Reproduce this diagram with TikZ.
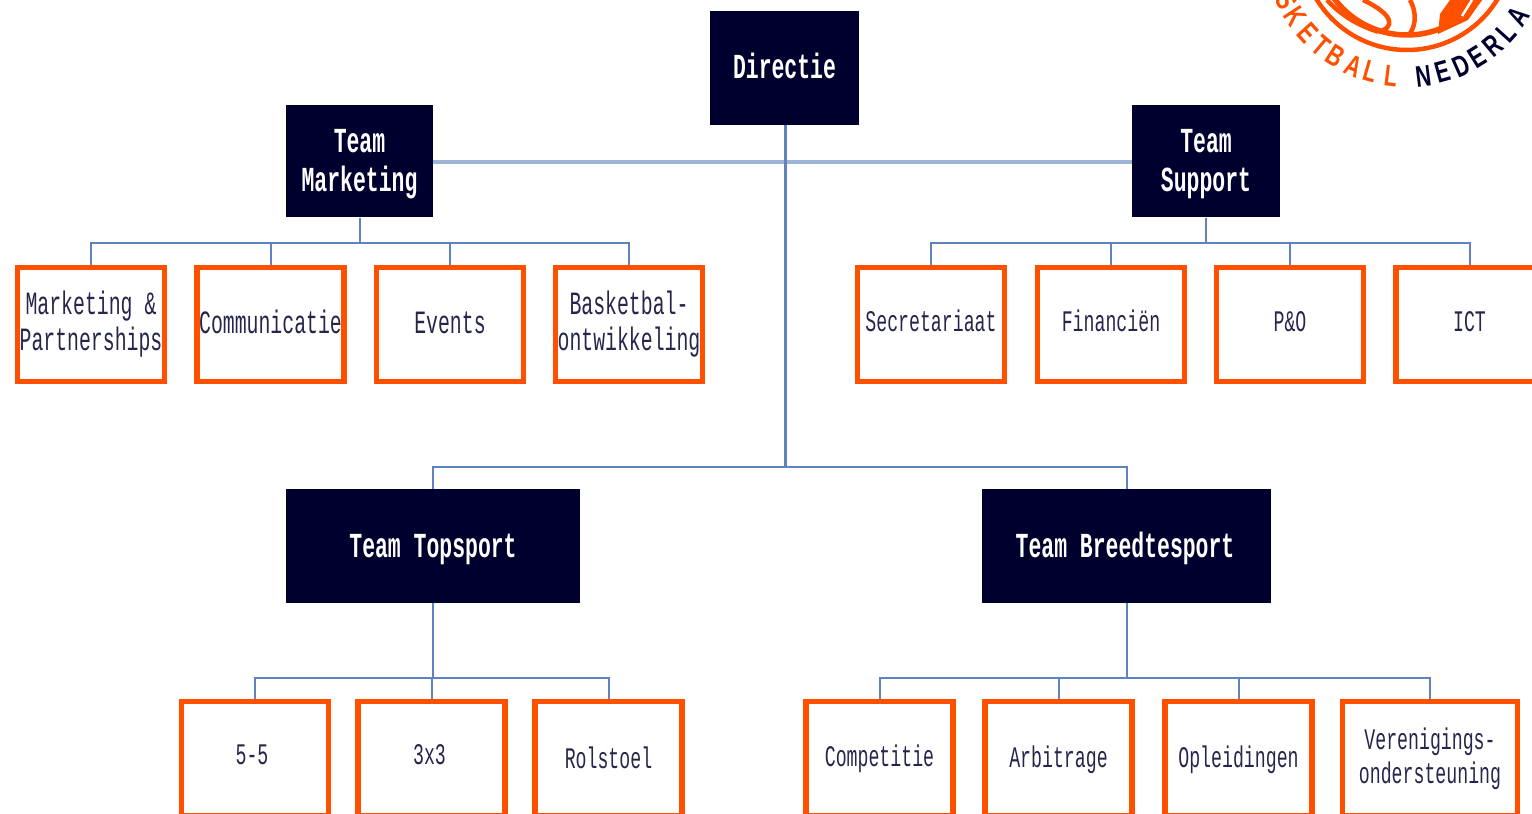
\documentclass[tikz,border=0pt]{standalone}
\usepackage{fontspec}
\setmainfont[FakeStretch=0.61]{Liberation Mono}
\newfontfamily\logofont[FakeStretch=0.72]{Liberation Sans}
\definecolor{navy}{HTML}{00002E}
\definecolor{oranje}{HTML}{FF5000}
\definecolor{lijn}{HTML}{5F83C0}
\definecolor{lijnlicht}{HTML}{9DB3D8}
\newcommand{\regel}[2]{\raisebox{#1}[0pt][0pt]{#2}}
\tikzset{
  team/.style={rectangle,fill=navy,text=white,align=center,minimum height=2.28cm,inner sep=0pt,
    font=\fontsize{20}{22}\selectfont\bfseries},
  unit/.style={rectangle,draw=oranje,line width=0.105cm,fill=white,text=navy!85,align=center,
    minimum height=2.28cm,minimum width=2.94cm,inner sep=0pt,font=\fontsize{17}{19.5}\selectfont},
  groot/.style={font=\fontsize{18.5}{20.4}\selectfont},
  tak/.style={draw=lijn,line width=0.04cm},
  stam/.style={draw=lijnlicht,line width=0.08cm},
  letter/.style={inner sep=0pt,font=\fontsize{17}{17}\selectfont\logofont\bfseries},
}
\begin{document}
\begin{tikzpicture}[x=0.02cm,y=-0.02cm]
\useasboundingbox (0,0) rectangle (1532,814);
% logo
\begin{scope}
  \clip (1250,0) rectangle (1532,100);
  \draw[oranje,line width=0.09cm] (1407,-56) circle (106);
  \draw[oranje,line width=0.11cm] (1407,-56) circle (91);
  \draw[oranje,line width=0.09cm] (1327,0) .. controls (1350,25) and (1375,30) .. (1378,32);
  \draw[oranje,line width=0.09cm] (1363,0) .. controls (1395,15) and (1395,28) .. (1378,32);
  \draw[oranje,line width=0.09cm] (1410,0) .. controls (1418,15) and (1415,28) .. (1408,36);
  \fill[oranje] (1450,0) -- (1440,14) -- (1438,34) -- (1468,20) -- (1482,0) -- cycle;
  \draw[white,line width=0.05cm] (1472,0) -- (1462,16);
\end{scope}
\foreach \ang/\ch [count=\i] in {-65/S,-56.8/K,-48/E,-40/T,-32.4/B,-23.6/A,-16/L,-7/L}
  \node[letter,text=oranje,rotate=\ang] (org\i) at ({1407+133*sin(\ang)},{-56+133*cos(\ang)}) {\ch};
\foreach \ang/\ch [count=\i] in {7/N,15.5/E,24/D,32/E,40/R,48/L,57/A}
  \node[letter,text=navy,rotate=\ang] (ned\i) at ({1407+133*sin(\ang)},{-56+133*cos(\ang)}) {\ch};
% teams
\node[team,minimum width=2.98cm] (directie) at (784.5,68) {\regel{-0.22cm}{Directie}};
\node[team,minimum width=2.94cm,minimum height=2.26cm] (marketing) at (359.5,161) {\rule{0pt}{0.59cm}Team\\Marketing};
\node[team,minimum width=2.96cm,minimum height=2.26cm] (support) at (1206,161) {\rule{0pt}{0.59cm}Team\\Support};
\node[team,minimum width=5.88cm] (topsport) at (433,546) {\regel{-0.24cm}{Team Topsport}};
\node[team,minimum width=5.78cm] (breedte) at (1126.5,546) {\regel{-0.24cm}{Team Breedtesport\hspace{0.06cm}}};
% units
\node[unit,groot] (mp) at (91,324.5) {Marketing \&\\Partnerships};
\node[unit,groot] (comm) at (270.5,324.5) {\regel{-0.185cm}{Communicatie}};
\node[unit,groot] (events) at (450,324.5) {\regel{-0.185cm}{Events}};
\node[unit,groot] (basket) at (629,324.5) {Basketbal-\\ontwikkeling};
\node[unit] (secr) at (931,324.5) {\regel{-0.15cm}{Secretariaat}};
\node[unit] (fin) at (1111,324.5) {\regel{-0.15cm}{Financiën}};
\node[unit] (po) at (1290,324.5) {\regel{-0.15cm}{P\&O}};
\node[unit] (ict) at (1469.5,324.5) {\regel{-0.15cm}{ICT}};
\node[unit] (vijf) at (255,758.5) {\regel{-0.11cm}{5-5\hspace{0.12cm}}};
\node[unit] (drie) at (431.5,758.5) {\regel{-0.11cm}{3x3\hspace{0.08cm}}};
\node[unit] (rol) at (608.5,758.5) {\regel{-0.19cm}{Rolstoel}};
\node[unit] (comp) at (879.5,758.5) {\regel{-0.15cm}{Competitie}};
\node[unit] (arb) at (1058.5,758.5) {\regel{-0.17cm}{Arbitrage}};
\node[unit] (opl) at (1238.5,758.5) {\regel{-0.17cm}{Opleidingen}};
\node[unit,minimum width=3.5cm] (ver) at (1430,758.5) {Verenigings-\\ondersteuning};
% connectors
\draw[stam] ([yshift=-0.03cm]marketing.east) -- ([yshift=-0.03cm]support.west);
\draw[tak,line width=0.05cm] ([xshift=0.02cm]directie.south) -- ++(0,342) coordinate (split);
\draw[tak] (topsport.north) |- (split) -| (breedte.north);
\foreach \parent/\child in {marketing/mp,marketing/comm,marketing/events,marketing/basket,
    support/secr,support/fin,support/po,support/ict}
  \draw[tak] (\parent.south) -- ++(0,25) -| (\child.north);
\foreach \parent/\child in {topsport/vijf,topsport/drie,topsport/rol,
    breedte/comp,breedte/arb,breedte/opl,breedte/ver}
  \draw[tak] (\parent.south) -- ++(0,75) -| (\child.north);
\end{tikzpicture}
\end{document}
